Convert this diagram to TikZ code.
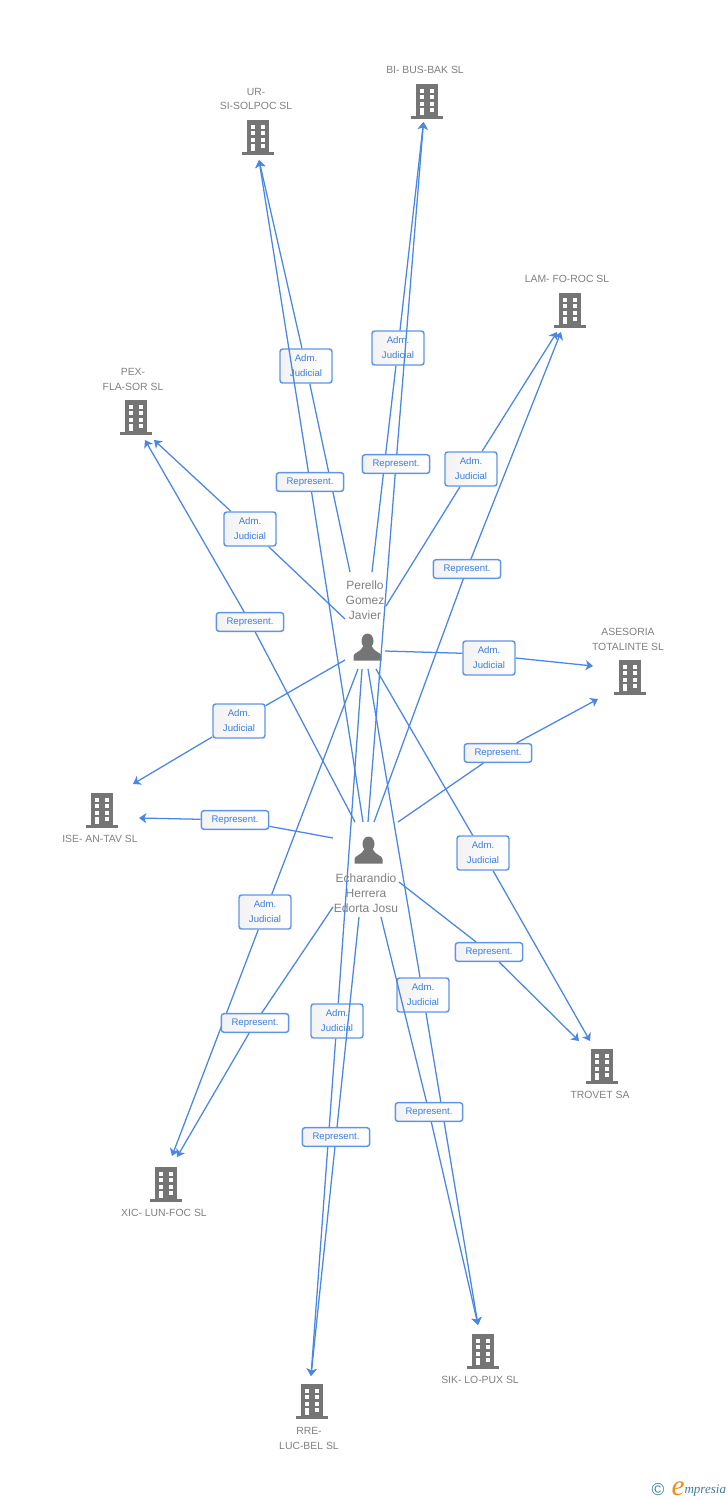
\documentclass[tikz,border=0pt]{standalone}
\usepackage{fontspec}
\setmainfont{Liberation Sans}
\newfontfamily\logofont{Liberation Serif}
\usetikzlibrary{arrows.meta}
\definecolor{linkblue}{HTML}{4A86E4}
\definecolor{boxblue}{HTML}{5F95E6}
\definecolor{textblue}{HTML}{3C7EDC}
\definecolor{icongrey}{HTML}{757575}
\definecolor{namegrey}{HTML}{808080}
\definecolor{logoteal}{HTML}{3F7F96}
\definecolor{logoorange}{HTML}{F28A1E}
\tikzset{every picture/.style={line width=0.75pt}}
\tikzset{
  every pic/.style={yscale=-1},
  link/.style={draw=linkblue,line width=0.95pt,-{Stealth[length=5.5pt,width=7.5pt,inset=1.5pt]}},
  admbox/.style={draw=boxblue,line width=1.1pt,left color=black!5,right color=white,rounded corners=2pt,minimum width=39pt,minimum height=25.5pt,inner sep=0pt,align=center,text=textblue,font=\fontsize{7.2}{11.2}\selectfont},
  repbox/.style={draw=boxblue,line width=1.1pt,left color=black!5,right color=white,rounded corners=2pt,minimum width=50.5pt,minimum height=14pt,inner sep=0pt,align=center,text=textblue,font=\fontsize{7.2}{11.2}\selectfont},
  company/.style={inner sep=0pt,align=center,text=namegrey,font=\fontsize{7.8}{11.2}\selectfont},
  person/.style={inner sep=0pt,align=center,text=namegrey,font=\fontsize{9}{11.2}\selectfont},
  building/.pic={
    \fill[icongrey] (-11,0) rectangle (11,32);
    \fill[icongrey] (-16,32) rectangle (16,34.5);
    \foreach \wx in {-7,3} \foreach \wy in {4.5,11,17.5} \fill[white] (\wx,\wy) rectangle +(4,4);
    \fill[white] (-7,24) rectangle (-3,31);
    \fill[white] (3,24) rectangle (7,28);
  },
  personicon/.pic={
    \fill[icongrey] (0,0) circle [x radius=6,y radius=7.5];
    \fill[icongrey] (-14,19.5) -- (-14,15) .. controls (-14,11.5) and (-7,11.5) .. (-4,5) -- (4,5) .. controls (7,11.5) and (14,11.5) .. (14,15) -- (14,19.5) -- cycle;
  }
}
\begin{document}
\begin{tikzpicture}[x=0.75pt,y=0.75pt,yscale=-1,xscale=1]
\useasboundingbox (0,0) rectangle (728,1500);
% Companies
\draw (258,120) pic {building};
\draw (427,84) pic {building};
\draw (570,293) pic {building};
\draw (136,400) pic {building};
\draw (630,660) pic {building};
\draw (102,793) pic {building};
\draw (602,1049) pic {building};
\draw (166,1167) pic {building};
\draw (483,1334) pic {building};
\draw (312,1384) pic {building};
\node [company] (urName) at (256,99) {UR-\\SI-SOLPOC SL};
\node [company] (biName) at (425,70) {BI- BUS-BAK SL};
\node [company] (lamName) at (567,279) {LAM- FO-ROC SL};
\node [company] (pexName) at (133,379) {PEX-\\FLA-SOR SL};
\node [company] (aseName) at (628,639) {ASESORIA\\TOTALINTE SL};
\node [company] (iseName) at (100,839) {ISE- AN-TAV SL};
\node [company] (troName) at (600,1095) {TROVET SA};
\node [company] (xicName) at (164,1213) {XIC- LUN-FOC SL};
\node [company] (sikName) at (480,1380) {SIK- LO-PUX SL};
\node [company] (rreName) at (309,1438) {RRE-\\LUC-BEL SL};
% Arrow tips
\coordinate (urTip) at (259,160);
\coordinate (biTip) at (423.5,122);
\coordinate (lamTipA) at (557,332);
\coordinate (lamTipR) at (561,332);
\coordinate (pexTipA) at (154,440);
\coordinate (pexTipR) at (145,440);
\coordinate (aseTipA) at (593,666);
\coordinate (aseTipR) at (598,699);
\coordinate (iseTipA) at (133,784);
\coordinate (iseTipR) at (139,818);
\coordinate (troTipA) at (590,1041);
\coordinate (troTipR) at (579,1041);
\coordinate (xicTipA) at (172,1156);
\coordinate (xicTipR) at (177,1157);
\coordinate (sikTip) at (478,1325);
\coordinate (rreTip) at (311,1376);
% Perello
\draw (367.5,641) pic {personicon};
\node [person] (perello) at (365,600) {Perello\\Gomez\\Javier};
\coordinate (pUR) at (350,572);
\coordinate (pBI) at (372,572);
\coordinate (pLAM) at (386,606);
\coordinate (pPEX) at (345,619);
\coordinate (pASE) at (385,651);
\coordinate (pISE) at (345,660);
\coordinate (pXIC) at (358,669);
\coordinate (pRRE) at (362,669);
\coordinate (pSIK) at (368,669);
\coordinate (pTRO) at (376,669);
% Echarandio
\draw (368.5,844) pic {personicon};
\node [person] (echarandio) at (366,893) {Echarandio\\Herrera\\Edorta Josu};
\coordinate (eUR) at (363,822);
\coordinate (eBI) at (368,822);
\coordinate (eLAM) at (374,822);
\coordinate (ePEX) at (355,822);
\coordinate (eASE) at (398,822);
\coordinate (eISE) at (333,838);
\coordinate (eXIC) at (333,907);
\coordinate (eRRE) at (359,917);
\coordinate (eSIK) at (381,917);
\coordinate (eTRO) at (399,882);
% Adm. Judicial
\draw (306,366) node [admbox] (admUR) {Adm.\\Judicial};
\draw[link] (pUR) -- (admUR) -- (urTip);
\draw (398,348) node [admbox] (admBI) {Adm.\\Judicial};
\draw[link] (pBI) -- (admBI) -- (biTip);
\draw (471,469) node [admbox] (admLAM) {Adm.\\Judicial};
\draw[link] (pLAM) -- (admLAM) -- (lamTipA);
\draw (250,529) node [admbox] (admPEX) {Adm.\\Judicial};
\draw[link] (pPEX) -- (admPEX) -- (pexTipA);
\draw (489,658) node [admbox] (admASE) {Adm.\\Judicial};
\draw[link] (pASE) -- (admASE.170) (admASE.east) -- (aseTipA);
\draw (239,721) node [admbox] (admISE) {Adm.\\Judicial};
\draw[link] (pISE) -- (admISE) -- (iseTipA);
\draw (483,853) node [admbox] (admTRO) {Adm.\\Judicial};
\draw[link] (pTRO) -- (admTRO) -- (troTipA);
\draw (265,912) node [admbox] (admXIC) {Adm.\\Judicial};
\draw[link] (pXIC) -- (admXIC) -- (xicTipA);
\draw (423,995) node [admbox] (admSIK) {Adm.\\Judicial};
\draw[link] (pSIK) -- (admSIK) -- (sikTip);
\draw (337,1021) node [admbox] (admRRE) {Adm.\\Judicial};
\draw[link] (pRRE) -- (admRRE) -- (rreTip);
% Represent.
\draw (310,482) node [repbox] (repUR) {Represent.};
\draw[link] (eUR) -- (repUR) -- (urTip);
\draw (396,464) node [repbox] (repBI) {Represent.};
\draw[link] (eBI) -- (repBI) -- (biTip);
\draw (467,569) node [repbox] (repLAM) {Represent.};
\draw[link] (eLAM) -- (repLAM) -- (lamTipR);
\draw (250,622) node [repbox] (repPEX) {Represent.};
\draw[link] (ePEX) -- (repPEX) -- (pexTipR);
\draw (498,753) node [repbox] (repASE) {Represent.};
\draw[link] (eASE) -- (repASE) -- (aseTipR);
\draw (235,820) node [repbox] (repISE) {Represent.};
\draw[link] (eISE) -- (repISE) -- (iseTipR);
\draw (489,952) node [repbox] (repTRO) {Represent.};
\draw[link] (eTRO) -- (repTRO) -- (troTipR);
\draw (255,1023) node [repbox] (repXIC) {Represent.};
\draw[link] (eXIC) -- (repXIC) -- (xicTipR);
\draw (429,1112) node [repbox] (repSIK) {Represent.};
\draw[link] (eSIK) -- (repSIK) -- (sikTip);
\draw (336,1137) node [repbox] (repRRE) {Represent.};
\draw[link] (eRRE) -- (repRRE) -- (rreTip);
% Logo
\node [inner sep=0pt,text=logoteal,font=\fontsize{13}{14}\selectfont] (logoMark) at (658,1489) {©};
\node [inner sep=0pt,anchor=base west,text=logoorange,font=\logofont\itshape\fontsize{22}{22}\selectfont] (logoE) at (671,1495) {e};
\node [inner sep=0pt,anchor=base west,text=logoteal,font=\logofont\itshape\fontsize{9.8}{12}\selectfont] (logoName) at (684,1493) {mpresia};
\end{tikzpicture}
\end{document}
